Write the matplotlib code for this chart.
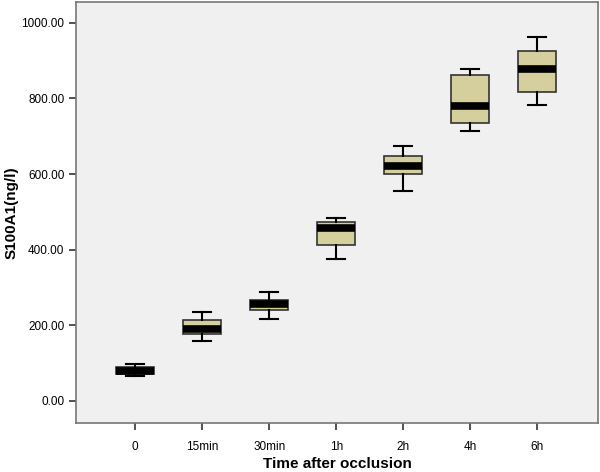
import matplotlib.pyplot as plt

plt.rcParams['font.family'] = ['Liberation Sans', 'DejaVu Sans']

groups = ['0', '15min', '30min', '1h', '2h', '4h', '6h']
whislo = [66, 159, 217, 376, 556, 714, 783]
q1 = [71, 177, 241, 413, 601, 735, 817]
med = [80, 190, 257, 458, 622, 780, 878]
q3 = [90, 214, 267, 473, 648, 862, 926]
whishi = [98, 235, 288, 484, 675, 878, 963]

stats = []
for i in range(len(groups)):
    stats.append(dict(label=groups[i], whislo=whislo[i], q1=q1[i], med=med[i],
                      q3=q3[i], whishi=whishi[i], fliers=[]))

fig = plt.figure(figsize=(6, 4.72), dpi=100)
ax = fig.add_axes([0.127, 0.104, 0.870, 0.892])
ax.set_facecolor('#f0f0f0')

ax.bxp(stats, positions=range(len(groups)), widths=0.57, patch_artist=True,
       showfliers=False,
       boxprops=dict(facecolor='#d5cf9d', edgecolor='#333333', linewidth=1.2),
       medianprops=dict(color='black', linewidth=5.5, solid_capstyle='butt'),
       whiskerprops=dict(color='black', linewidth=1.5),
       capprops=dict(color='black', linewidth=1.5),
       capwidths=0.27)

ax.set_xlim(-0.88, 6.91)
ax.set_ylim(-58, 1055)
ax.set_yticks([0, 200, 400, 600, 800, 1000])
ax.set_yticklabels(['0.00', '200.00', '400.00', '600.00', '800.00', '1000.00'])
ax.set_xticks(range(len(groups)))
ax.set_xticklabels(groups)

for s in ax.spines.values():
    s.set_color('#777777')
    s.set_linewidth(1.2)
ax.tick_params(axis='both', colors='#333333', labelcolor='black', labelsize=8.5,
               length=5, width=1.2)
ax.tick_params(axis='x', pad=8)

ax.set_xlabel('Time after occlusion', fontsize=11, fontweight='bold', labelpad=3)
ax.set_ylabel('S100A1(ng/l)', fontsize=11, fontweight='bold', labelpad=2)

fig.savefig('out.png', dpi=100)
